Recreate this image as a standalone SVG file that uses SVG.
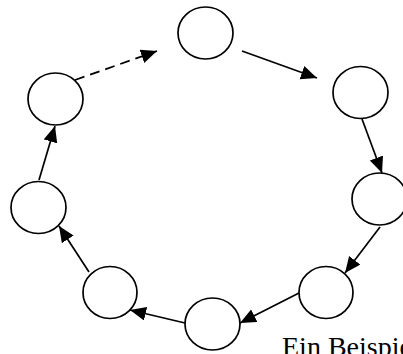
<svg xmlns="http://www.w3.org/2000/svg" width="403" height="354" viewBox="0 0 403 354">
<style>
.n{fill:#fff;stroke:#000;stroke-width:1.7}
.c{stroke:#000;stroke-width:1.7;fill:none;marker-end:url(#a)}
.d{stroke-dasharray:10,6}
.t{font-family:"Liberation Serif","DejaVu Serif",serif;font-size:28px;fill:#000}
</style>
<defs>
<marker id="a" markerUnits="userSpaceOnUse" markerWidth="17" markerHeight="15" refX="16" refY="7" orient="auto">
<path d="M0,0 L16,7 L0,14 z" fill="#000"/>
</marker>
</defs>
<rect width="403" height="354" fill="#fff"/>
<g id="connectors">
<line class="c d" x1="75" y1="80" x2="157" y2="51"/>
<line class="c" x1="242" y1="51" x2="317" y2="78"/>
<line class="c" x1="362" y1="119" x2="382" y2="173"/>
<line class="c" x1="380" y1="227" x2="345" y2="273"/>
<line class="c" x1="299" y1="293" x2="240" y2="323"/>
<line class="c" x1="185" y1="323" x2="130" y2="310"/>
<line class="c" x1="89" y1="272" x2="59" y2="226"/>
<line class="c" x1="39" y1="180" x2="55" y2="126"/>
</g>
<g id="n1"><ellipse class="n" cx="205.5" cy="33" rx="27.5" ry="26"/></g>
<g id="n2"><ellipse class="n" cx="360.5" cy="92.5" rx="27.5" ry="26"/></g>
<g id="n3"><ellipse class="n" cx="379.5" cy="199" rx="27.5" ry="26"/></g>
<g id="n4"><ellipse class="n" cx="326" cy="292.5" rx="27" ry="26"/></g>
<g id="n5"><ellipse class="n" cx="212.5" cy="324" rx="27.5" ry="26"/></g>
<g id="n6"><ellipse class="n" cx="110" cy="292.5" rx="27" ry="26"/></g>
<g id="n7"><ellipse class="n" cx="38.5" cy="207.5" rx="27.5" ry="26"/></g>
<g id="n8"><ellipse class="n" cx="55.5" cy="99" rx="27.5" ry="26"/></g>
<g id="label"><text class="t" x="282" y="356">Ein Beispiel</text></g>
</svg>
